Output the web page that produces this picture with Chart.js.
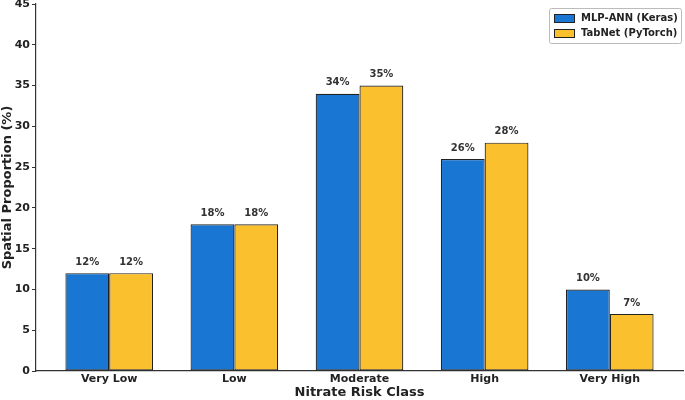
<!DOCTYPE html>
<html><head><meta charset="utf-8">
<script src="https://cdn.jsdelivr.net/npm/chart.js@4.4.1/dist/chart.umd.min.js"></script>
<style>html,body{margin:0;padding:0;background:#fff}#wrap{width:685px;height:400px;position:relative}</style>
</head><body><div id="wrap"><canvas id="c" width="685" height="400"></canvas></div>
<script>
const categories = ["Very Low", "Low", "Moderate", "High", "Very High"];
const mlpValues = [12, 18, 34, 26, 10];
const tabnetValues = [12, 18, 35, 28, 7];
const seriesNames = ["MLP-ANN (Keras)", "TabNet (PyTorch)"];
const yTicks = [0, 5, 10, 15, 20, 25, 30, 35, 40, 45];

const FONT = "'DejaVu Sans', sans-serif";
const BLUE = "#1976D2", YELLOW = "#FBC02D", EDGE = "#222222", AXIS = "#333333";

const toPoints = arr => arr.map((v, i) => ({x: i, y: v}));

const labelPlugin = {
  id: 'valLabels',
  afterDatasetsDraw(chart) {
    const ctx = chart.ctx;
    ctx.save();
    ctx.font = "bold 10px " + FONT;
    ctx.fillStyle = "#333333";
    ctx.textAlign = "center";
    ctx.textBaseline = "bottom";
    chart.data.datasets.forEach((ds, di) => {
      chart.getDatasetMeta(di).data.forEach((bar, i) => {
        ctx.fillText(ds.data[i].y + "%", bar.x, bar.y - 6);
      });
    });
    ctx.restore();
  }
};

const legendPlugin = {
  id: 'boxLegend',
  afterDraw(chart) {
    const ctx = chart.ctx;
    const ca = chart.chartArea;
    ctx.save();
    const bx = ca.right - 134, by = ca.top + 4, bw = 132, bh = 35;
    ctx.fillStyle = "rgba(255,255,255,0.9)";
    ctx.strokeStyle = "#bbbbbb";
    ctx.lineWidth = 1;
    ctx.beginPath();
    ctx.roundRect(bx + 0.5, by + 0.5, bw, bh, 2);
    ctx.fill(); ctx.stroke();
    ctx.font = "bold 10px " + FONT;
    ctx.textBaseline = "middle";
    ctx.textAlign = "left";
    chart.data.datasets.forEach((ds, i) => {
      const y = by + 10 + i * 15;
      ctx.fillStyle = ds.backgroundColor;
      ctx.fillRect(bx + 5, y - 4, 20, 8);
      ctx.strokeStyle = EDGE;
      ctx.strokeRect(bx + 5.5, y - 3.5, 20, 8);
      ctx.fillStyle = "#222222";
      ctx.fillText(ds.label, bx + 32, y + 0.5);
    });
    ctx.restore();
  }
};

new Chart(document.getElementById('c'), {
  type: 'bar',
  data: {
    datasets: [
      {label: seriesNames[0], data: toPoints(mlpValues), backgroundColor: BLUE, borderColor: EDGE, borderWidth: 1.2, borderSkipped: false},
      {label: seriesNames[1], data: toPoints(tabnetValues), backgroundColor: YELLOW, borderColor: EDGE, borderWidth: 1.2, borderSkipped: false}
    ]
  },
  options: {
    responsive: false,
    animation: false,
    devicePixelRatio: 1,
    layout: {padding: {top: 0, right: 2, left: 0, bottom: 0}},
    datasets: {bar: {categoryPercentage: 0.7, barPercentage: 1.0}},
    plugins: {legend: {display: false}, tooltip: {enabled: false}},
    scales: {
      x: {
        type: 'linear',
        offset: false,
        min: -0.585, max: 4.585,
        afterBuildTicks: s => { s.ticks = categories.map((c, i) => ({value: i})); },
        afterFit: s => { s.height = 29; },
        ticks: {
          callback: (v, i) => categories[i],
          font: {family: FONT, size: 11, weight: 'bold'},
          color: '#222222', padding: 2, maxRotation: 0, autoSkip: false
        },
        grid: {display: false, drawOnChartArea: false, drawTicks: false, tickLength: 0},
        border: {display: true, color: AXIS, width: 1.2},
        title: {display: true, text: 'Nitrate Risk Class', font: {family: FONT, size: 13, weight: 'bold'}, color: '#222222', padding: {top: 0, bottom: 0}}
      },
      y: {
        min: 0, max: 45,
        afterBuildTicks: s => { s.ticks = yTicks.map(v => ({value: v})); },
        afterFit: s => { s.width = 36; s.paddingTop = 4; },
        ticks: {font: {family: FONT, size: 11, weight: 'bold'}, color: '#222222', padding: 2},
        grid: {display: true, drawOnChartArea: false, drawTicks: true, tickLength: 4, color: AXIS},
        border: {display: true, color: AXIS, width: 1.2},
        title: {display: true, text: 'Spatial Proportion (%)', font: {family: FONT, size: 13, weight: 'bold'}, color: '#222222', padding: {top: 0, bottom: 0}}
      }
    }
  },
  plugins: [labelPlugin, legendPlugin]
});
</script></body></html>
